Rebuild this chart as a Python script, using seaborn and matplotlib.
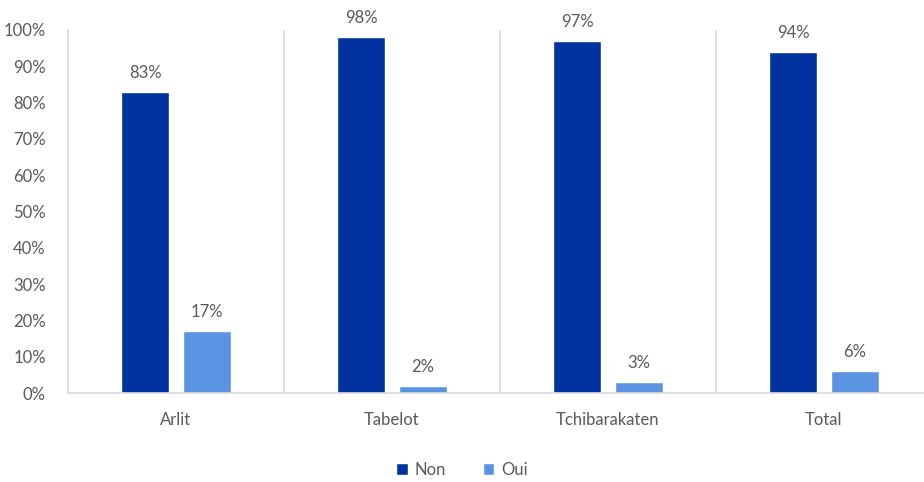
import pandas as pd
import matplotlib.pyplot as plt
import seaborn as sns
from matplotlib.ticker import PercentFormatter

categories = ['Arlit', 'Tabelot', 'Tchibarakaten', 'Total']
non_values = [83, 98, 97, 94]
oui_values = [17, 2, 3, 6]

df = pd.DataFrame({
    'site': categories * 2,
    'pct': non_values + oui_values,
    'reponse': ['Non'] * 4 + ['Oui'] * 4,
})

sns.set_theme(style="white")
plt.rcParams['font.family'] = ['Lato', 'DejaVu Sans']
grey = '#595959'

fig = plt.figure(figsize=(9.24, 4.82), dpi=100)
ax = fig.add_axes([68 / 924, 1 - 393 / 482, 864 / 924, 363 / 482])

sns.barplot(data=df, x='site', y='pct', hue='reponse',
            palette={'Non': '#0033a0', 'Oui': '#5b93e3'},
            width=0.57, gap=0.22, ax=ax, saturation=1, legend=True)

for cont in ax.containers:
    ax.bar_label(cont, labels=[f'{v:.0f}%' for v in cont.datavalues],
                 padding=8, fontsize=12, color=grey)

ax.set_xlim(-0.5, 3.5)
ax.set_ylim(0, 100)
ax.set_yticks(range(0, 101, 10))
ax.yaxis.set_major_formatter(PercentFormatter(decimals=0))
ax.tick_params(axis='y', length=0, pad=16, labelsize=12, labelcolor=grey)
ax.tick_params(axis='x', length=0, pad=14, labelsize=12, labelcolor=grey)
ax.set_xlabel('')
ax.set_ylabel('')

for s in ['top', 'right']:
    ax.spines[s].set_visible(False)
for s in ['left', 'bottom']:
    ax.spines[s].set_color('#d9d9d9')
    ax.spines[s].set_linewidth(1.2)
for xv in [0.5, 1.5, 2.5]:
    ax.axvline(xv, color='#d9d9d9', lw=1.2, zorder=0)

ax.legend(loc='center', bbox_to_anchor=(462 / 924, 12 / 482),
          bbox_transform=fig.transFigure, ncol=2, frameon=False,
          fontsize=12, labelcolor=grey, handlelength=0.7, handleheight=0.7,
          columnspacing=2.2, handletextpad=0.4)

fig.savefig('out.png', dpi=100)
